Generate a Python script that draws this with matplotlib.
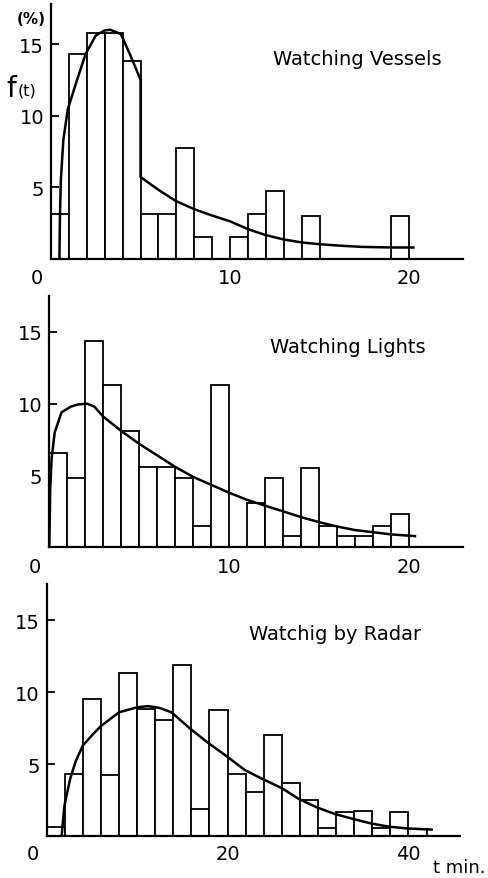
import matplotlib
matplotlib.use("Agg")
import matplotlib.pyplot as plt
from matplotlib.transforms import ScaledTranslation

# Observed frequency (%) per bin, and the fitted distribution curves
vessel_left = [0, 1, 2, 3, 4, 5, 6, 7, 8, 10, 11, 12, 14, 19]
vessel_freq = [3.1, 14.3, 15.8, 15.8, 13.8, 3.1, 3.1, 7.7, 1.5, 1.5, 3.1, 4.7, 3.0, 3.0]
vessel_fit_t = [0.47, 0.5, 0.55, 0.69, 0.93, 1.43, 1.93, 2.5, 3.0, 3.3, 3.9, 4.4, 5.0,
                5.0, 6.0, 7.0, 8.0, 9.0, 10.0, 11.0, 12.0, 13.0, 14.0, 15.0, 16.1, 17.4, 19.1, 20.3]
vessel_fit_f = [0.0, 3.0, 5.5, 8.3, 10.4, 12.4, 14.3, 15.6, 15.95, 16.0, 15.7, 14.3, 12.5,
                5.7, 4.8, 4.0, 3.45, 3.0, 2.6, 2.05, 1.63, 1.33, 1.12, 1.0, 0.9, 0.81, 0.77, 0.77]

light_left = [0, 1, 2, 3, 4, 5, 6, 7, 8, 9, 11, 12, 13, 14, 15, 16, 17, 18, 19]
light_freq = [6.6, 4.8, 14.4, 11.3, 8.1, 5.6, 5.6, 4.8, 1.5, 11.3, 3.1, 4.8, 0.8, 5.5,
              1.5, 0.8, 0.8, 1.5, 2.3]
light_fit_t = [0.0, 0.05, 0.13, 0.3, 0.68, 1.2, 1.6, 2.1, 2.5, 3.0, 4.0, 5.0, 6.0, 7.0,
               8.0, 9.0, 10.0, 11.0, 12.0, 13.0, 14.0, 15.0, 16.0, 17.0, 18.0, 19.0, 20.4]
light_fit_f = [0.0, 4.0, 6.2, 8.0, 9.4, 9.8, 9.95, 10.0, 9.8, 9.1, 8.1, 7.2, 6.4, 5.6,
               4.9, 4.35, 3.8, 3.3, 2.9, 2.5, 2.1, 1.75, 1.45, 1.2, 1.05, 0.9, 0.77]

radar_left = [0, 2, 4, 6, 8, 10, 12, 14, 16, 18, 20, 22, 24, 26, 28, 30, 32, 34, 36, 38, 40]
radar_freq = [0.62, 4.3, 9.5, 4.26, 11.3, 8.8, 8.1, 11.9, 1.9, 8.75, 4.35, 3.05, 7.0,
              3.7, 2.5, 0.55, 1.7, 1.75, 0.55, 1.7, 0.5]
radar_fit_t = [1.65, 1.95, 2.6, 3.2, 4.0, 5.0, 6.0, 8.0, 10.0, 11.2, 12.5, 13.8, 15.8,
               17.8, 19.8, 21.9, 23.9, 26.0, 27.9, 29.9, 31.9, 33.9, 35.8, 37.8, 39.8, 42.7]
radar_fit_f = [0.0, 2.1, 4.0, 5.2, 6.3, 7.0, 7.65, 8.6, 8.95, 9.03, 8.9, 8.6, 7.5,
               6.5, 5.6, 4.6, 3.96, 3.34, 2.58, 2.0, 1.54, 1.2, 0.9, 0.67, 0.55, 0.46]

W, H = 489, 879
fig = plt.figure(figsize=(W / 100, H / 100), dpi=100)
fig.patch.set_facecolor("white")


def add_panel(left, base, right, top, xmax, ymax):
    ax = fig.add_axes([left / W, (H - base) / H, (right - left) / W, (base - top) / H])
    ax.set_xlim(0, xmax)
    ax.set_ylim(0, ymax)
    return ax


def draw(ax, left, freq, width, fit_t, fit_f, title, title_xy, xticks, label_pad):
    ax.bar(left, freq, width=width, align="edge", facecolor="white",
           edgecolor="black", linewidth=1.3, zorder=2)
    ax.plot(fit_t, fit_f, color="black", linewidth=1.8, zorder=3,
            solid_capstyle="butt")
    for s in ("top", "right"):
        ax.spines[s].set_visible(False)
    for s in ("left", "bottom"):
        ax.spines[s].set_linewidth(1.6)
        ax.spines[s].set_zorder(4)
    ax.set_yticks([5, 10, 15])
    ax.set_yticklabels(["5", "10", "15"])
    ax.set_xticks(xticks)
    ax.set_xticklabels([str(v) for v in xticks])
    ax.tick_params(axis="y", direction="in", length=6, width=1.3, pad=5, labelsize=14)
    ax.tick_params(axis="x", length=0, pad=label_pad, labelsize=14)
    # the origin label sits left of the corner
    lab0 = ax.get_xticklabels()[0]
    lab0.set_transform(lab0.get_transform() + ScaledTranslation(-0.14, 0, fig.dpi_scale_trans))
    fig.text(title_xy[0] / W, 1 - title_xy[1] / H, title, ha="center",
             va="baseline", fontsize=14)


ax1 = add_panel(51, 259.5, 463, 5, 23, 17.8)
draw(ax1, vessel_left, vessel_freq, 1, vessel_fit_t, vessel_fit_f,
     "Watching Vessels", (357, 65), [0, 10, 20], 7.0)

ax2 = add_panel(49.3, 548.3, 463, 297, 23, 17.5)
draw(ax2, light_left, light_freq, 1, light_fit_t, light_fit_f,
     "Watching Lights", (348, 353), [0, 10, 20], 7.0)

ax3 = add_panel(46.7, 837.3, 460, 585, 45.7, 17.5)
draw(ax3, radar_left, radar_freq, 2, radar_fit_t, radar_fit_f,
     "Watchig by Radar", (335, 640), [0, 20, 40], 5.5)

# axis annotations
fig.text(31.5 / W, 1 - 19 / H, "(%)", ha="center", va="center", fontsize=11,
         fontweight="bold")
fig.text(6 / W, 1 - 97 / H, "f", ha="left", va="baseline", fontsize=20)
fig.text(18 / W, 1 - 95 / H, "(t)", ha="left", va="baseline", fontsize=11.5)
fig.text(459 / W, 1 - 868 / H, "t min.", ha="center", va="center", fontsize=13)

fig.savefig("out.png", dpi=100, facecolor="white")
